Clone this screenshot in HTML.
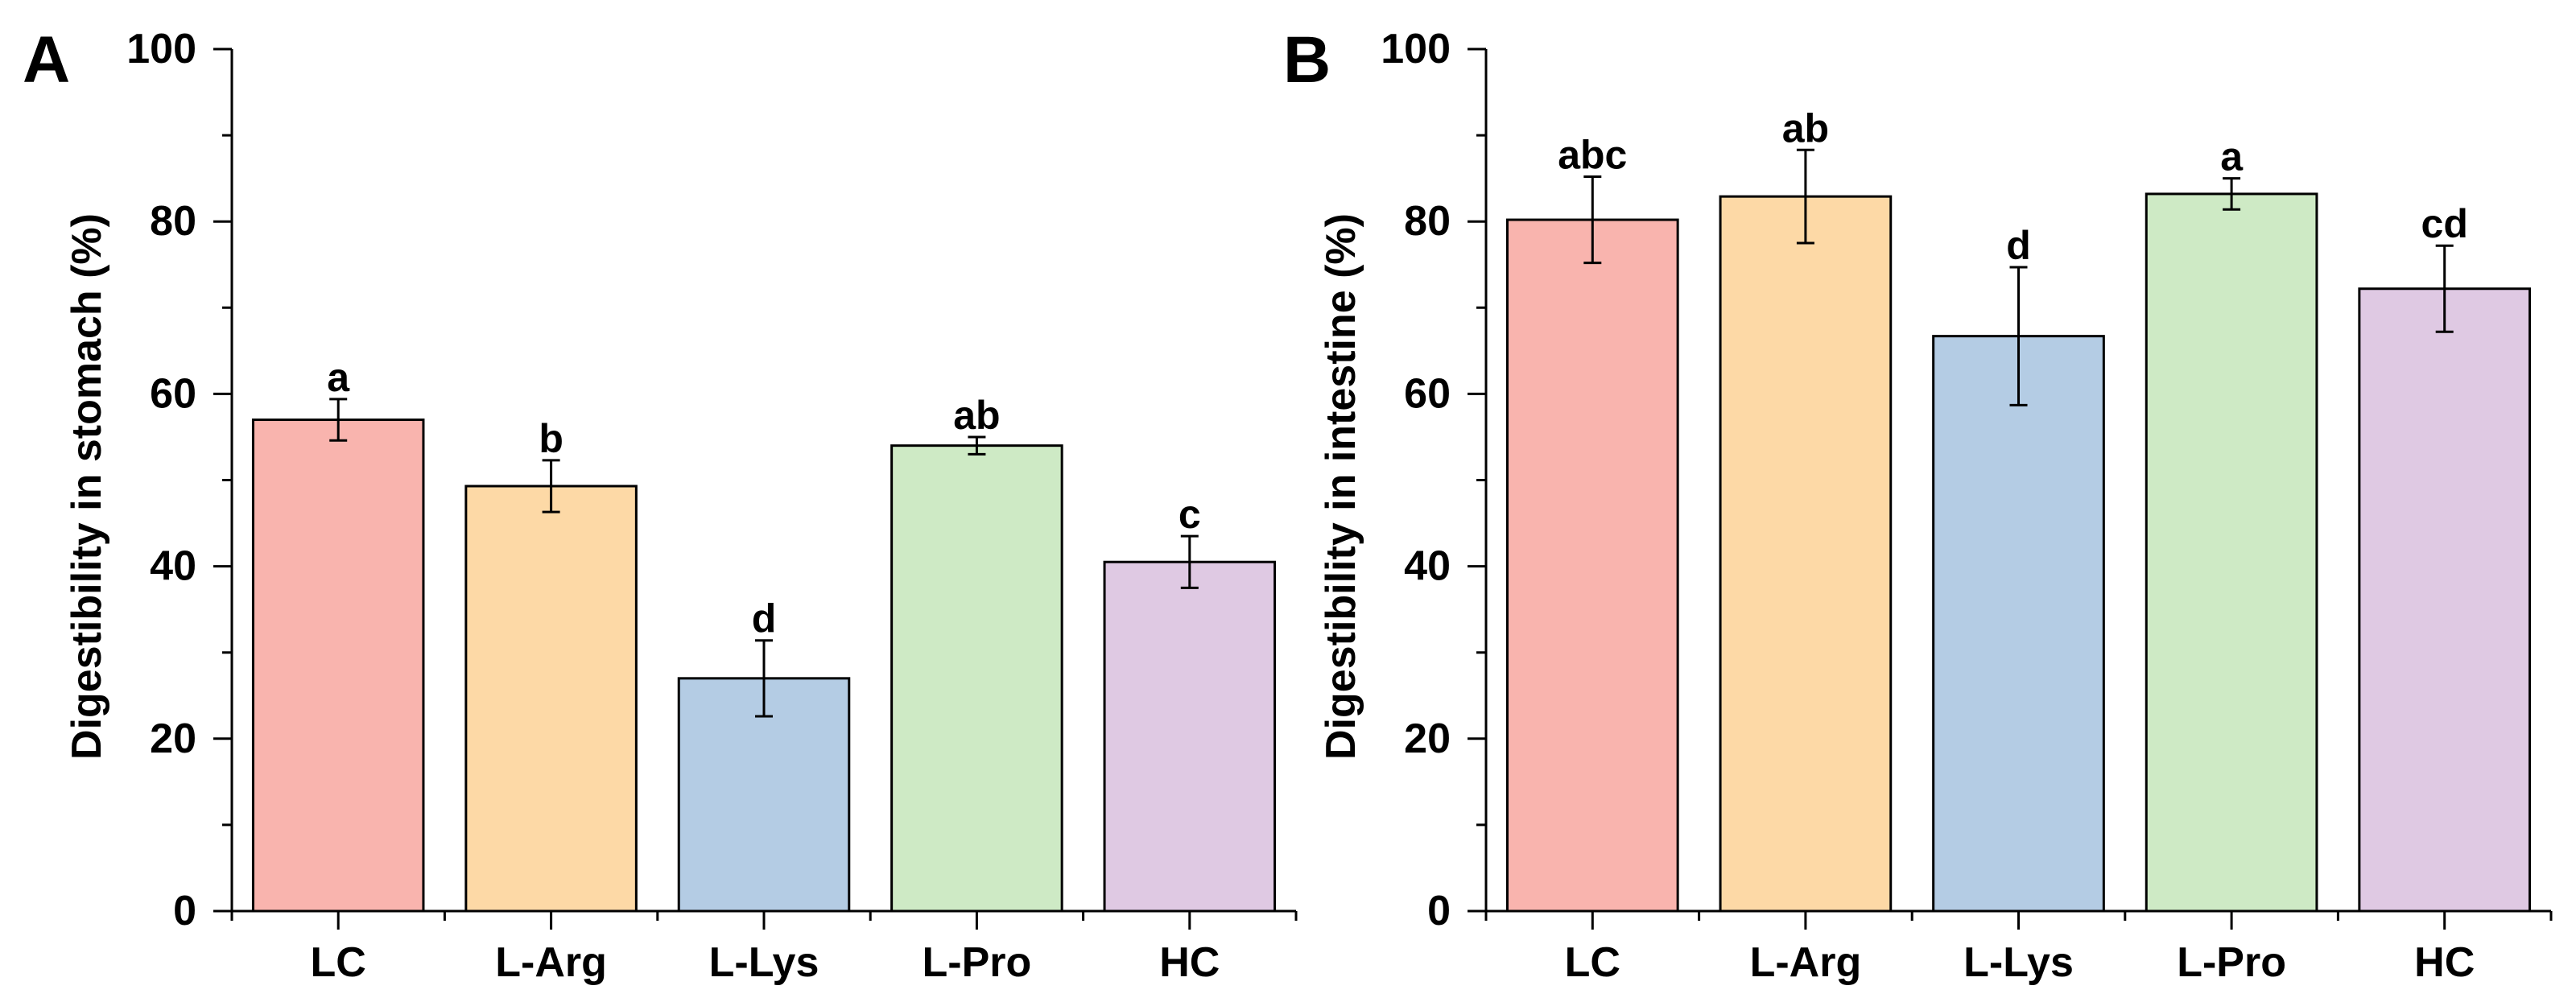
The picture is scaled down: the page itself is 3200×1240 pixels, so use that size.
<!DOCTYPE html>
<html><head><meta charset="utf-8"><style>
html,body{margin:0;padding:0;background:#fff;}
svg{display:block;font-family:"Liberation Sans",Arial,sans-serif;font-weight:bold;}
</style></head><body>
<svg id="chart" width="3200" height="1240" viewBox="0 0 3200 1240" xmlns="http://www.w3.org/2000/svg"></svg>
<script>
const categories = ["LC","L-Arg","L-Lys","L-Pro","HC"];
const stomachValues = [57.0, 49.3, 27.0, 54.0, 40.5];
const stomachErrors = [2.4, 3.0, 4.4, 1.0, 3.0];
const stomachLetters = ["a","b","d","ab","c"];
const intestineValues = [80.2, 82.9, 66.7, 83.2, 72.2];
const intestineErrors = [5.0, 5.4, 8.0, 1.8, 5.0];
const intestineLetters = ["abc","ab","d","a","cd"];
const yTicks = [0,20,40,60,80,100];
const yMinorTicks = [10,30,50,70,90];
const colors = ["#f9b4ae","#fdd9a6","#b4cce4","#ceeac5","#dfc9e3"];

const NS = "http://www.w3.org/2000/svg";
const svg = document.getElementById("chart");
function mk(tag, attrs, parent){
  const e = document.createElementNS(NS, tag);
  for (const k in attrs) e.setAttribute(k, attrs[k]);
  (parent||svg).appendChild(e);
  return e;
}

function panel(id, letter, letterX, axisX, axisEnd, title, values, errors, letters){
  const g = mk("g", {});
  
  
  const y0 = 1132, y100 = 61;
  const yScale = v => y0 + (y100 - y0) * v / 100;
  const bandW = (axisEnd - axisX) / categories.length;
  const xCenter = i => axisX + bandW * (i + 0.5);
  const barW = bandW * 0.8;

  const pl = mk("text", {x: letterX, y: 102, "font-size": 82}, g);
  pl.textContent = letter;
  
  

  values.forEach((v, i) => {
    const r = mk("rect", {x: xCenter(i) - barW/2, y: yScale(v), width: barW, height: y0 - yScale(v), fill: colors[i], stroke: "#000", "stroke-width": 3}, g);
    
    
    const top = yScale(v + errors[i]), bot = yScale(v - errors[i]);
    const eb = mk("path", {d: `M${xCenter(i)} ${top}V${bot}M${xCenter(i)-11} ${top}H${xCenter(i)+11}M${xCenter(i)-11} ${bot}H${xCenter(i)+11}`, stroke: "#000", "stroke-width": 3, fill: "none"}, g);
    
    
    const t = mk("text", {x: xCenter(i), y: top - 10, "text-anchor": "middle", "font-size": 50}, g);
    t.textContent = letters[i];
    
    
    const c = mk("text", {x: xCenter(i), y: 1213, "text-anchor": "middle", "font-size": 52}, g);
    c.textContent = categories[i];
    
    
  });

  const ax = mk("path", {d: `M${axisX} ${y100}V${y0}H${axisEnd}`, stroke: "#000", "stroke-width": 3, fill: "none"}, g);
  
  
  let d = "";
  yTicks.forEach(v => { d += `M${axisX-23} ${yScale(v)}H${axisX}`; });
  yMinorTicks.forEach(v => { d += `M${axisX-12} ${yScale(v)}H${axisX}`; });
  categories.forEach((c, i) => { d += `M${xCenter(i)} ${y0}V${y0+23}`; });
  for (let i = 0; i <= categories.length; i++) d += `M${axisX + bandW*i} ${y0}V${y0+12}`;
  const tk = mk("path", {d: d, stroke: "#000", "stroke-width": 3, fill: "none"}, g);
  
  
  yTicks.forEach(v => {
    const t = mk("text", {x: axisX - 44, y: yScale(v) + 17, "text-anchor": "end", "font-size": 52}, g);
    t.textContent = v;
    
    
  });
  const yt = mk("text", {transform: `translate(${axisX - 163} ${(y0+y100)/2 + 8}) rotate(-90)`, "text-anchor": "middle", "font-size": 52}, g);
  yt.textContent = title;
  
  
}

panel("a", "A", 28, 288, 1610, "Digestibility in stomach (%)", stomachValues, stomachErrors, stomachLetters);
panel("b", "B", 1594, 1846, 3169, "Digestibility in intestine (%)", intestineValues, intestineErrors, intestineLetters);
</script>
</body></html>
